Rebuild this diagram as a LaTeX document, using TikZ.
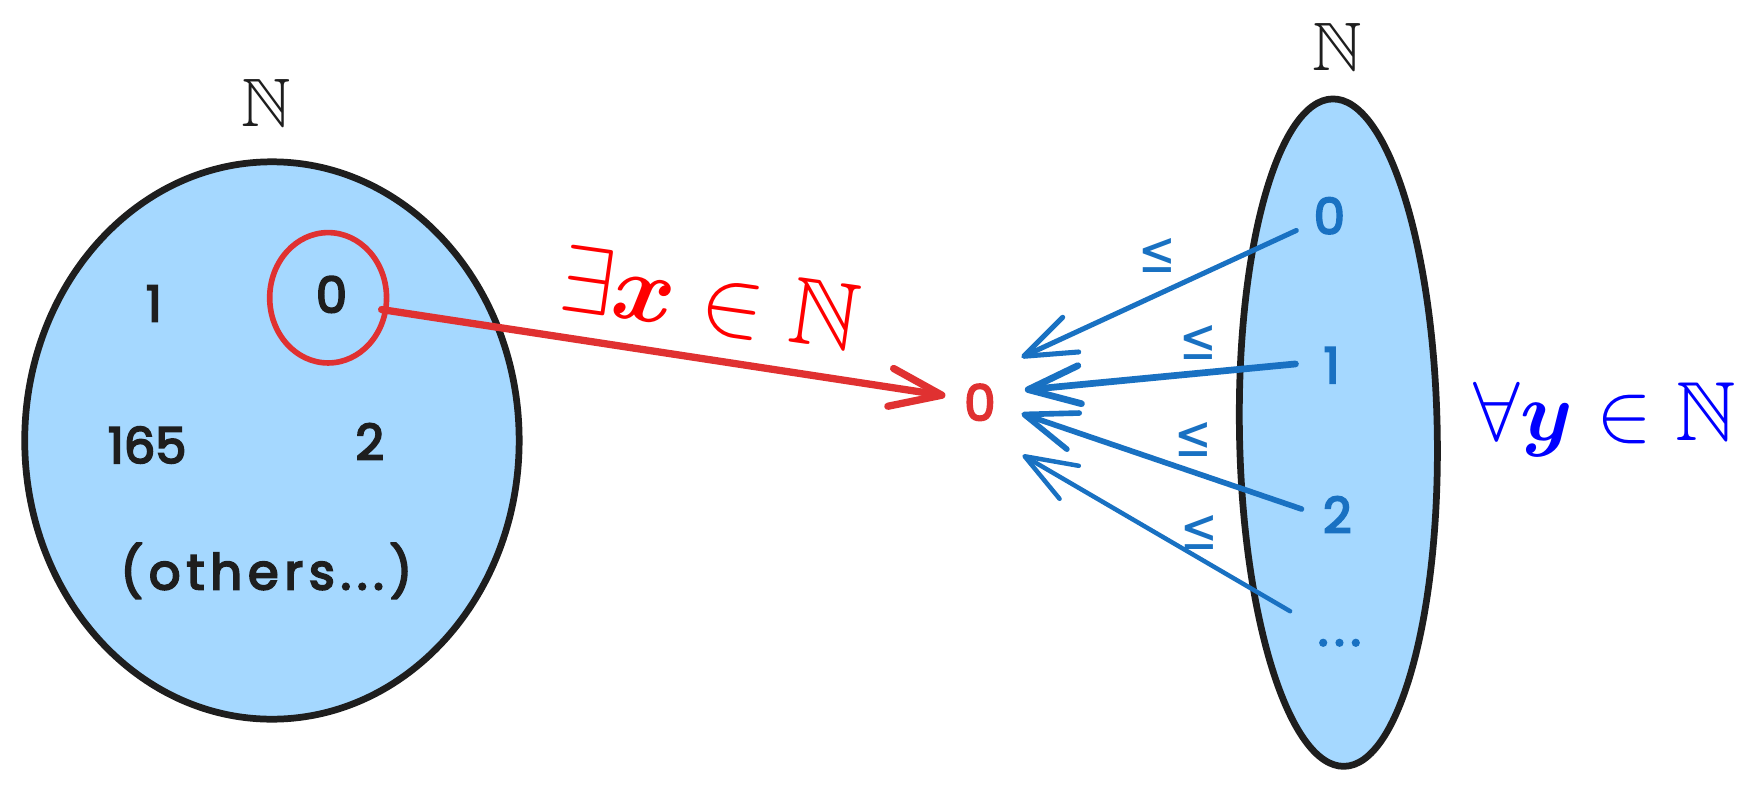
\documentclass[tikz,border=0pt]{standalone}
\usepackage{amsmath,amssymb,bm}
\usepackage{fontspec}
\newfontfamily\handfont{Poppins}[FakeBold=4]
\newfontfamily\handwide{Poppins}[LetterSpace=12,FakeBold=4]
\newfontfamily\symfont{DejaVu Sans}
\usetikzlibrary{shapes.geometric,arrows.meta}
\definecolor{setfill}{HTML}{A5D8FF}
\definecolor{ink}{HTML}{1E1E1E}
\definecolor{sred}{HTML}{E03131}
\definecolor{sblue}{HTML}{1971C2}
\definecolor{pred}{HTML}{FF0000}
\definecolor{pblue}{HTML}{0000FF}
\begin{document}
\begin{tikzpicture}[x=1pt,y=-1pt,
  setshape/.style={ellipse, draw=ink, fill=setfill, line width=6pt, inner sep=0pt},
  hand/.style={font=\handfont\fontsize{44}{50}\selectfont, inner sep=0pt},
  elem/.style={hand, text=ink},
  belem/.style={hand, text=sblue, circle, minimum size=64pt},
  mathlbl/.style={font=\Huge, inner sep=0pt},
  leqlbl/.style={font=\symfont\fontsize{40}{44}\selectfont, text=sblue, inner sep=0pt, yscale=1.3},
  barb/.style={-{Straight Barb[length=46pt,width=34pt,round]}, line cap=round, line join=round},
]
\fill[white] (0,0) rectangle (1568,712);
\useasboundingbox (0,0) rectangle (1568,712);

% sets
\node[setshape, minimum width=440pt, minimum height=496pt] (A) at (242,392) {};
\node[setshape, minimum width=176pt, minimum height=594pt, rotate=1] (B) at (1191,385) {};

% set labels
\node[mathlbl, text=ink, scale=2.45] (NA) at (237,92) {$\mathbb{N}$};
\node[mathlbl, text=ink, scale=2.45] (NB) at (1190,42) {$\mathbb{N}$};

% left elements
\node[elem] (a1) at (137,270) {1};
\node[elem] (a0) at (295,262) {0};
\node[elem] (a165) at (131,396) {165};
\node[elem] (a2) at (329,393) {2};
\node[elem, font=\handwide\fontsize{44}{50}\selectfont] (aoth) at (237,508) {(others...)};
\node[ellipse, draw=sred, line width=5pt, minimum width=104pt, minimum height=116pt, inner sep=0pt] (rc) at (292,265) {};

% target
\node[hand, text=sred, circle, minimum size=56pt] (t) at (872,358) {0};

% right elements
\node[belem] (d0) at (1183,192) {0};
\node[belem] (d1) at (1185,325) {1};
\node[belem] (d2) at (1190,458) {2};
\node[belem, font=\handwide\fontsize{44}{50}\selectfont] (d3) at (1192,572) {...};

% quantifier labels
\node[mathlbl, text=pred, rotate=-8, scale=3.4, anchor=base] (ex) at (628,294) {$\exists\bm{x}\in\mathbb{N}$};
\node[mathlbl, text=pblue, scale=3, anchor=base] (fa) at (1428,392) {$\forall\bm{y}\in\mathbb{N}$};

% red arrow
\draw[barb, sred, line width=6.5pt, shorten <=-6pt, shorten >=3pt] (rc.-12) -- (t.169);

% blue arrows
\coordinate (tip0) at (909,318);
\coordinate (tip1) at (912,347);
\coordinate (tip2) at (909,368);
\coordinate (tip3) at (910,405);
\draw[barb, sblue, line width=4.5pt] (d0.204) -- (tip0);
\draw[barb, sblue, line width=6pt] (d1.178) -- (tip1);
\draw[barb, sblue, line width=5pt] (d2.171) -- (tip2);
\draw[barb, sblue, line width=4pt, shorten <=20pt] (d3.146) -- (tip3);

% leq labels
\node[leqlbl] (l0) at (1030,227) {≤};
\node[leqlbl] (l1) at (1066,305) {≤};
\node[leqlbl] (l2) at (1062,391) {≤};
\node[leqlbl] (l3) at (1067,474) {≤};
\end{tikzpicture}
\end{document}
